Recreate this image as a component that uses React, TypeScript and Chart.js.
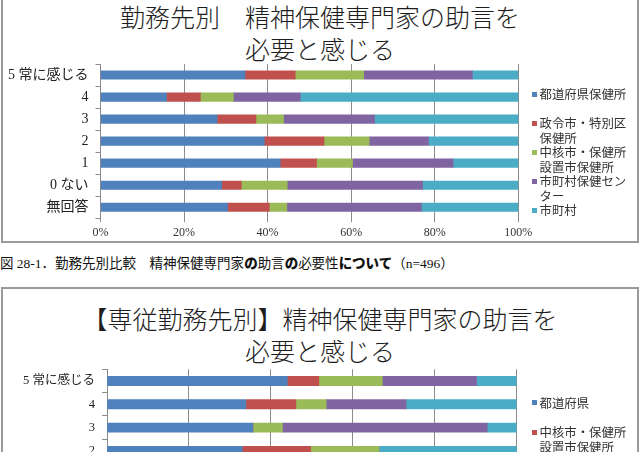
import { useEffect, useRef } from "react";
import { Chart, registerables } from "chart.js";

Chart.register(...registerables);

const CJK = '"Noto Sans CJK JP", sans-serif';
const SERIF_MIX = '"Liberation Serif", "Noto Sans CJK JP", serif';

// Response levels (rows, top to bottom) and the value axis ticks
const responseLevels = ["5 常に感じる", "4", "3", "2", "1", "0 ない", "無回答"];
const percentTicks = [0, 20, 40, 60, 80, 100];
const seriesColors = ["#4F81BD", "#C0504D", "#9BBB59", "#8064A2", "#4BACC6"];

// 図 28-1 勤務先別 (%) — one array per workplace, one value per response level
const workplaceNames = [
  ["都道府県保健所"],
  ["政令市・特別区", "保健所"],
  ["中核市・保健所", "設置市保健所"],
  ["市町村保健セン", "ター"],
  ["市町村"],
];
const prefOffice = [34.6, 15.8, 27.9, 39.2, 43.0, 29.0, 30.4];
const designatedCityOffice = [12.0, 8.1, 9.3, 14.3, 8.7, 4.7, 10.0];
const coreCityOffice = [16.4, 7.9, 6.6, 10.8, 8.6, 11.0, 4.2];
const municipalCenter = [26.0, 16.0, 21.8, 14.2, 24.1, 32.4, 32.2];
const municipality = [11.0, 52.2, 34.4, 21.5, 15.6, 22.9, 23.2];

// 専従勤務先別 (%) — rows below the first four are not shown
const dedicatedNames = [
  ["都道府県"],
  ["中核市・保健所", "設置市保健所"],
  ["市町村保健センター"],
  ["市町村"],
  ["その他"],
];
const dedPref = [44.0, 33.9, 35.6, 33.0, null, null, null];
const dedCoreCity = [7.7, 12.2, 0, 16.7, null, null, null];
const dedCenter = [15.5, 7.4, 7.2, 16.7, null, null, null];
const dedMunicipality = [23.0, 19.5, 50.0, 0, null, null, null];
const dedOther = [9.8, 27.0, 7.2, 33.6, null, null, null];

type Spec = {
  canvasTop: number;
  canvasWidth: number;
  canvasHeight: number;
  plotLeft: number;
  plotTop: number;
  plotRight: number;
  plotBottom: number;
  labelSize: number;
  barThickness: number;
  names: string[][];
  series: (number | null)[][];
};

const chart1: Spec = {
  canvasTop: 0,
  canvasWidth: 540,
  canvasHeight: 246,
  plotLeft: 100.5,
  plotTop: 64,
  plotRight: 518.3,
  plotBottom: 218.3,
  labelSize: 14,
  barThickness: 8.5,
  names: workplaceNames,
  series: [prefOffice, designatedCityOffice, coreCityOffice, municipalCenter, municipality],
};

const chart2: Spec = {
  canvasTop: 300,
  canvasWidth: 540,
  canvasHeight: 260,
  plotLeft: 107,
  plotTop: 69.3,
  plotRight: 516.7,
  plotBottom: 232.6,
  labelSize: 12.5,
  barThickness: 9.3,
  names: dedicatedNames,
  series: [dedPref, dedCoreCity, dedCenter, dedMunicipality, dedOther],
};

const GRID = "#8c8c8c";

function StackedBars({ spec }: { spec: Spec }) {
  const ref = useRef<HTMLCanvasElement>(null);
  useEffect(() => {
    const chart = new Chart(ref.current as HTMLCanvasElement, {
      type: "bar",
      data: {
        labels: responseLevels,
        datasets: spec.series.map((d, i) => ({
          label: spec.names[i].join(""),
          data: d,
          backgroundColor: seriesColors[i],
          borderWidth: 0,
          barThickness: spec.barThickness,
        })),
      },
      options: {
        indexAxis: "y",
        responsive: false,
        animation: false,
        devicePixelRatio: 1,
        layout: {
          padding: { left: 0, top: spec.plotTop, right: spec.canvasWidth - spec.plotRight, bottom: 0 },
        },
        plugins: { legend: { display: false }, tooltip: { enabled: false } },
        scales: {
          x: {
            stacked: true,
            min: 0,
            max: 100,
            afterBuildTicks: (s: any) => {
              s.ticks = percentTicks.map((v) => ({ value: v }));
            },
            afterFit: (s: any) => {
              s.height = spec.canvasHeight - spec.plotBottom;
            },
            ticks: {
              callback: (v: any) => v + "%",
              font: { family: SERIF_MIX, size: 12 },
              color: "#333",
              padding: 3,
              maxRotation: 0,
            },
            grid: { color: GRID, lineWidth: 1, drawTicks: true, tickLength: 4 },
            border: { display: false },
          },
          y: {
            stacked: true,
            afterFit: (s: any) => {
              s.width = spec.plotLeft;
            },
            ticks: {
              font: { family: SERIF_MIX, size: spec.labelSize },
              color: "#222",
              padding: 7,
            },
            grid: { drawOnChartArea: false, drawTicks: true, tickLength: 5, color: GRID, offset: true },
            border: { display: true, color: GRID, width: 1 },
          },
        },
      },
    });
    return () => chart.destroy();
  }, [spec]);
  return (
    <canvas
      ref={ref}
      width={spec.canvasWidth}
      height={spec.canvasHeight}
      style={{
        position: "absolute",
        left: 0,
        top: spec.canvasTop,
        width: spec.canvasWidth,
        height: spec.canvasHeight,
      }}
    />
  );
}

// Legend entries: each entry's first-line centre y, following lines 14.5px apart
function Legend({ names, firstY, step }: { names: string[][]; firstY: number; step: number }) {
  return (
    <>
      {names.map((lines, i) => {
        const y = firstY + i * step;
        return (
          <div key={i}>
            <div
              style={{
                position: "absolute",
                left: 532,
                top: y - 2.5,
                width: 5,
                height: 5,
                background: seriesColors[i],
              }}
            />
            {lines.map((t, j) => (
              <div
                key={j}
                style={{
                  position: "absolute",
                  left: 539.5,
                  top: y + j * 14.5 - 8,
                  height: 16,
                  lineHeight: "16px",
                  fontFamily: CJK,
                  fontSize: 12.4,
                  color: "#333",
                  whiteSpace: "nowrap",
                }}
              >
                {t}
              </div>
            ))}
          </div>
        );
      })}
    </>
  );
}

function Title({ lines, top }: { lines: string[]; top: number }) {
  return (
    <>
      {lines.map((t, i) => (
        <div
          key={i}
          style={{
            position: "absolute",
            left: 1,
            width: 638,
            top: top + i * 32,
            height: 32,
            lineHeight: "32px",
            textAlign: "center",
            fontFamily: CJK,
            fontWeight: 300,
            fontSize: 25,
            color: "#1e1e1e",
            whiteSpace: "nowrap",
          }}
        >
          {t}
        </div>
      ))}
    </>
  );
}

const boxStyle = {
  position: "absolute" as const,
  left: 1,
  width: 638,
  border: "2px solid #9a9a9a",
  boxSizing: "border-box" as const,
};

export default function App() {
  const bold = { fontFamily: CJK, fontWeight: 900 };
  return (
    <div
      style={{
        position: "absolute",
        left: 0,
        top: 0,
        width: 644,
        height: 452,
        overflow: "hidden",
        background: "#fff",
      }}
    >
      <div style={{ ...boxStyle, top: -4, height: 247 }} />
      <Title lines={["勤務先別　精神保健専門家の助言を", "必要と感じる"]} top={0} />
      <StackedBars spec={chart1} />
      <Legend names={workplaceNames} firstY={94} step={29} />

      <div
        style={{
          position: "absolute",
          left: 0,
          top: 254,
          height: 16,
          lineHeight: "16px",
          fontFamily: SERIF_MIX,
          fontSize: 13.5,
          color: "#111",
          whiteSpace: "nowrap",
        }}
      >
        図 28-1．勤務先別比較　精神保健専門家<span style={bold}>の</span>助言
        <span style={bold}>の</span>必要性<span style={bold}>について</span>（n=496）
      </div>

      <div style={{ ...boxStyle, top: 287, height: 300 }} />
      <Title lines={["【専従勤務先別】精神保健専門家の助言を", "必要と感じる"]} top={302} />
      <StackedBars spec={chart2} />
      <Legend names={dedicatedNames} firstY={402.7} step={29.6} />
    </div>
  );
}
